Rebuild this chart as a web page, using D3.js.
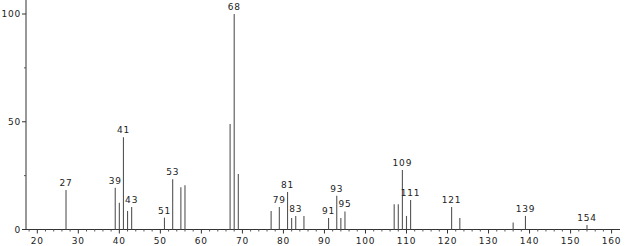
<!DOCTYPE html>
<html><head><meta charset="utf-8">
<script src="https://cdn.jsdelivr.net/npm/d3@7"></script>
<style>body{margin:0;background:#fff}svg{display:block}text{font-family:"DejaVu Sans",sans-serif}</style>
</head><body><svg id="c" width="625" height="246"></svg>
<script>
const mz =        [27, 39, 40, 41, 42, 43, 51, 53, 55, 56, 67, 68, 69, 77, 79, 81, 82, 83, 85, 91, 93, 94, 95, 107, 108, 109, 110, 111, 121, 123, 136, 139, 154];
const intensity = [18.3,19.4,12.4,42.8,8.6,10.4,5.5,23.3,19.6,20.5,49,100,25.8,8.6,10.4,17.4,5.3,6.3,6.3,5.3,15.7,5.3,8.4,11.7,11.7,27.6,6.3,13.7,10.4,5.3,3.3,6.3,2.1];
const labeled = [27, 39, 41, 43, 51, 53, 68, 79, 81, 83, 91, 93, 95, 109, 111, 121, 139, 154];
const xTicks = [20, 30, 40, 50, 60, 70, 80, 90, 100, 110, 120, 130, 140, 150, 160];
const yTicks = [0, 50, 100];

const svg = d3.select("#c");
const x = d3.scaleLinear().domain([20, 160]).range([37.3, 611.6]);
const y = d3.scaleLinear().domain([0, 100]).range([229.5, 14]);
const x0 = 26, yTop = 0, xEnd = 620;

// x axis
const gx = svg.append("g").attr("transform", `translate(0,${y(0)})`);
gx.append("line").attr("x1", x0).attr("x2", xEnd).attr("stroke", "#333");
const minor = d3.range(18, 162, 2).filter(v => v % 10 !== 0);
gx.selectAll(".mn").data(minor).join("line")
  .attr("x1", d => x(d)).attr("x2", d => x(d)).attr("y1", 0).attr("y2", 2).attr("stroke", "#555");
gx.selectAll(".mj").data(xTicks).join("line")
  .attr("x1", d => x(d)).attr("x2", d => x(d)).attr("y1", 0).attr("y2", 4).attr("stroke", "#333");
gx.selectAll("text").data(xTicks).join("text")
  .attr("x", d => x(d)).attr("y", 14).attr("text-anchor", "middle")
  .attr("font-size", 9).attr("letter-spacing", 0.8).attr("fill", "#222").text(d => d);

// y axis
const gy = svg.append("g").attr("transform", `translate(${x0},0)`);
gy.append("line").attr("y1", yTop).attr("y2", y(0)).attr("stroke", "#333");
gy.selectAll(".mj").data(yTicks).join("line")
  .attr("x1", -4).attr("x2", 0).attr("y1", d => y(d)).attr("y2", d => y(d)).attr("stroke", "#333");
gy.selectAll(".mn").data([25, 75]).join("line")
  .attr("x1", -2).attr("x2", 0).attr("y1", d => y(d)).attr("y2", d => y(d)).attr("stroke", "#555");
gy.selectAll("text").data(yTicks).join("text")
  .attr("x", -5).attr("y", d => y(d) + 3).attr("text-anchor", "end")
  .attr("font-size", 9).attr("letter-spacing", 0.8).attr("fill", "#222").text(d => d);

// peaks
const data = mz.map((m, i) => ({m, v: intensity[i]}));
svg.append("g").selectAll("line").data(data).join("line")
  .attr("x1", d => x(d.m)).attr("x2", d => x(d.m))
  .attr("y1", y(0)).attr("y2", d => y(d.v))
  .attr("stroke", "#555").attr("stroke-width", 1.1);
svg.append("g").selectAll("text").data(data.filter(d => labeled.includes(d.m))).join("text")
  .attr("x", d => x(d.m)).attr("y", d => y(d.v) - 4).attr("text-anchor", "middle")
  .attr("font-size", 9).attr("letter-spacing", 0.8).attr("fill", "#222").text(d => d.m);
</script></body></html>
